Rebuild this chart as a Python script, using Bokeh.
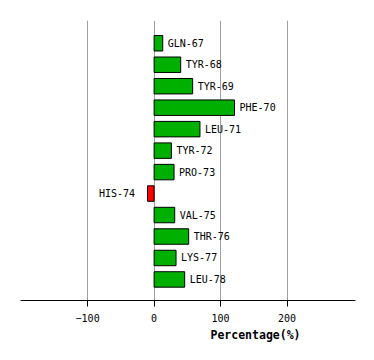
from bokeh.plotting import figure
from bokeh.models import ColumnDataSource, Range1d, FixedTicker, Title
from bokeh.core.properties import value
from bokeh.embed import file_html
from bokeh.resources import INLINE

residues = ["GLN-67", "TYR-68", "TYR-69", "PHE-70", "LEU-71", "TYR-72",
            "PRO-73", "HIS-74", "VAL-75", "THR-76", "LYS-77", "LEU-78"]
percent = [13, 40, 58, 121, 69, 26, 30, -10, 31, 52, 33, 46]
x_ticks = [-100, 0, 100, 200]

pos = list(range(len(residues)))
colors = ["#00b000" if v >= 0 else "#ff0000" for v in percent]
pos_idx = [i for i, v in enumerate(percent) if v >= 0]
neg_idx = [i for i, v in enumerate(percent) if v < 0]

src = ColumnDataSource(dict(y=pos, v=percent, c=colors, name=residues))
src_pos = ColumnDataSource(dict(y=[pos[i] for i in pos_idx], v=[percent[i] for i in pos_idx],
                                name=[residues[i] for i in pos_idx]))
src_neg = ColumnDataSource(dict(y=[pos[i] for i in neg_idx], v=[0 for i in neg_idx],
                                name=[residues[i] for i in neg_idx]))

p = figure(width=374, height=360, output_backend="svg", toolbar_location=None,
           x_range=Range1d(-201, 303), y_range=Range1d(11.98, -1.06),
           min_border_left=20, min_border_right=19, min_border_top=20, min_border_bottom=60)
p.outline_line_color = None
p.yaxis.visible = False
p.ygrid.visible = False

p.xgrid.ticker = FixedTicker(ticks=x_ticks)
p.xgrid.grid_line_color = "#a0a0a0"
p.xgrid.grid_line_width = 1

p.xaxis.ticker = FixedTicker(ticks=x_ticks)
p.xaxis.axis_line_color = "black"
p.xaxis.major_tick_line_color = "black"
p.xaxis.major_tick_in = 0
p.xaxis.major_tick_out = 6
p.xaxis.minor_tick_line_color = None
p.xaxis.major_label_text_font = "DejaVu Sans Mono"
p.xaxis.major_label_text_font_size = "10px"
p.xaxis.major_label_text_color = "black"
p.xaxis.major_label_standoff = 7

p.hbar(y="y", left=0, right="v", height=0.72, fill_color="c", line_color="black",
       line_width=1, source=src)

p.text(x="v", y="y", text="name", source=src_pos, x_offset=5,
       text_font=value("DejaVu Sans Mono"), text_font_size="10px",
       text_baseline="middle", text_align="left", text_color="black")
p.text(x="v", y="y", text="name", source=src_neg, x_offset=-19,
       text_font=value("DejaVu Sans Mono"), text_font_size="10px",
       text_baseline="middle", text_align="right", text_color="black")

title = Title(text="Percentage(%)", align="left", offset=190, standoff=2,
              text_font="DejaVu Sans Mono", text_font_size="11.5px",
              text_font_style="bold", text_color="black")
p.add_layout(title, "below")

open("out.html", "w").write(file_html(p, INLINE))
